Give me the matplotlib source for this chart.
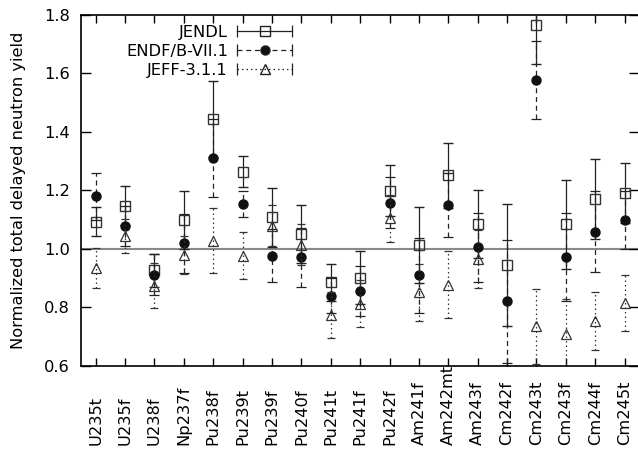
import numpy as np
import matplotlib
matplotlib.use("Agg")
import matplotlib.pyplot as plt
from matplotlib.lines import Line2D
from matplotlib.legend_handler import HandlerLine2D, HandlerTuple

# ------------------------------------------------------------
# data
# ------------------------------------------------------------
nuclides = ["U235t", "U235f", "U238f", "Np237f", "Pu238f", "Pu239t", "Pu239f",
            "Pu240f", "Pu241t", "Pu241f", "Pu242f", "Am241f", "Am242mt", "Am243f",
            "Cm242f", "Cm243t", "Cm243f", "Cm244f", "Cm245t"]

jendl = [1.093, 1.148, 0.926, 1.099, 1.443, 1.264, 1.108, 1.051, 0.885, 0.902,
         1.199, 1.014, 1.251, 1.085, 0.945, 1.766, 1.084, 1.171, 1.190]
jendl_err = [0.050, 0.068, 0.058, 0.100, 0.130, 0.054, 0.100, 0.100, 0.063, 0.090,
             0.086, 0.130, 0.110, 0.115, 0.210, 0.135, 0.152, 0.137, 0.103]

endf = [1.179, 1.079, 0.912, 1.019, 1.310, 1.154, 0.977, 0.971, 0.839, 0.856,
        1.158, 0.909, 1.149, 1.005, 0.821, 1.577, 0.972, 1.059, 1.099]
endf_err = [0.080, 0.068, 0.070, 0.100, 0.133, 0.045, 0.090, 0.100, 0.060, 0.087,
            0.087, 0.127, 0.110, 0.117, 0.210, 0.134, 0.152, 0.138, 0.100]

jeff = [0.934, 1.044, 0.874, 0.979, 1.028, 0.976, 1.079, 1.014, 0.774, 0.812,
        1.105, 0.851, 0.877, 0.965, 0.500, 0.735, 0.709, 0.754, 0.814]
jeff_err = [0.068, 0.057, 0.077, 0.065, 0.112, 0.080, 0.070, 0.070, 0.080, 0.080,
            0.080, 0.098, 0.115, 0.100, 0.090, 0.127, 0.120, 0.100, 0.095]

y_ticks = [0.6, 0.8, 1.0, 1.2, 1.4, 1.6, 1.8]

# ------------------------------------------------------------
# style
# ------------------------------------------------------------
plt.rcParams["font.family"] = ["DejaVu Sans"]
FS = 11.7
DASHED = (0, (4, 3))
DOTTED = (0, (1.2, 2.4))

fig = plt.figure(figsize=(6.38, 4.5), dpi=100)
ax = fig.add_axes([0.127, 0.187, 0.875, 0.780])

x = np.arange(len(nuclides))

ax.axhline(1.0, color="#8a8a8a", lw=1.5, zorder=1)

# JENDL - solid bars, open squares
eb1 = ax.errorbar(x, jendl, yerr=jendl_err, fmt="s", ms=7, mfc="none", mec="#333333",
                  mew=1.0, ecolor="#222222", elinewidth=0.9, capsize=3.5, capthick=0.9,
                  zorder=3)

# ENDF/B-VII.1 - dashed bars, filled circles
eb2 = ax.errorbar(x, endf, yerr=endf_err, fmt="o", ms=6.5, mfc="#111111", mec="#111111",
                  ecolor="#222222", elinewidth=0.9, capsize=3.5, capthick=0.9, zorder=4)
eb2[2][0].set_linestyle(DASHED)

# JEFF-3.1.1 - dotted bars, open triangles
eb3 = ax.errorbar(x, jeff, yerr=jeff_err, fmt="^", ms=6.5, mfc="none", mec="#333333",
                  mew=0.9, ecolor="#333333", elinewidth=0.9, capsize=3.0, capthick=0.8,
                  zorder=5)
eb3[2][0].set_linestyle(DOTTED)

# axes
ax.set_xlim(-0.5, len(nuclides) - 0.5)
ax.set_ylim(0.6, 1.8)
ax.set_xticks(x, nuclides)
ax.set_yticks(y_ticks, [f"{v:.1f}" for v in y_ticks])
ax.tick_params(axis="both", direction="in", top=True, right=True, labelsize=FS,
               width=1.0, colors="black")
ax.tick_params(axis="y", length=7, pad=8)
ax.tick_params(axis="x", length=6, pad=57)
for lab in ax.get_xticklabels():
    lab.set_rotation(90)
    lab.set_verticalalignment("bottom")
for sp in ax.spines.values():
    sp.set_linewidth(1.2)

ax.set_ylabel("Normalized total delayed neutron yield", fontsize=FS)
ax.yaxis.set_label_coords(-0.098, 0.5)

# ------------------------------------------------------------
# gnuplot-like legend: line with caps at both ends, point in the middle
# ------------------------------------------------------------
handles = []
hmap = {}
for ls, mk, mfc in [("-", "s", "none"), (DASHED, "o", "#111111"), (DOTTED, "^", "none")]:
    caps = Line2D([], [], color="#222222", lw=0.9, ls=ls, marker="|", ms=9, mew=0.9)
    pt = Line2D([], [], ls="none", marker=mk, ms=7 if mk == "s" else 6.5, mfc=mfc,
                mec="#222222", mew=1.0)
    hmap[caps] = HandlerLine2D(numpoints=2)
    hmap[pt] = HandlerLine2D(numpoints=1)
    handles.append((caps, pt))
hmap[tuple] = HandlerTuple(ndivide=1)

ax.legend(handles, ["JENDL", "ENDF/B-VII.1", "JEFF-3.1.1"], handler_map=hmap,
          loc="upper right", bbox_to_anchor=(297 / 638, 1 - 25 / 450),
          bbox_transform=fig.transFigure, frameon=False, markerfirst=False,
          fontsize=FS, handlelength=4.0, handletextpad=0.25, labelspacing=0.25,
          borderpad=0.0, borderaxespad=0.0)

fig.savefig("out.png", dpi=100)
